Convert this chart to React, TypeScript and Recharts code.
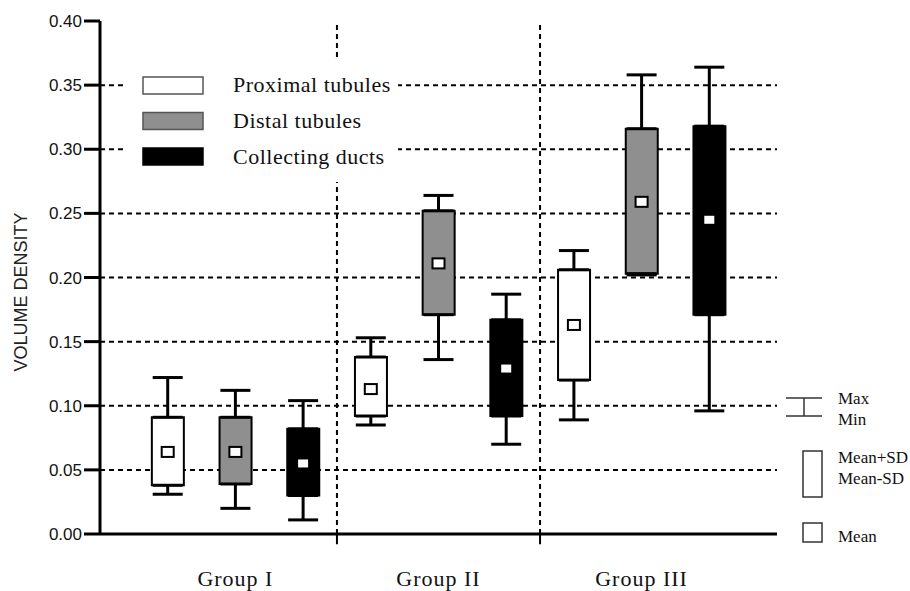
import React from 'react'
import { ComposedChart, Bar, Cell, Scatter, ErrorBar, XAxis, YAxis, CartesianGrid, ReferenceLine } from 'recharts'

const groups = ['Group I', 'Group II', 'Group III']
const seriesNames = ['Proximal tubules', 'Distal tubules', 'Collecting ducts']
const seriesFill = ['#ffffff', '#8f8f8f', '#000000']

// per series, one value per group (I, II, III)
const minVals = [
  [0.031, 0.085, 0.089],
  [0.020, 0.136, 0.202],
  [0.011, 0.070, 0.096],
]
const lowVals = [
  [0.038, 0.092, 0.120],
  [0.039, 0.171, 0.203],
  [0.030, 0.092, 0.171],
]
const meanVals = [
  [0.064, 0.113, 0.163],
  [0.064, 0.211, 0.259],
  [0.055, 0.129, 0.245],
]
const highVals = [
  [0.091, 0.138, 0.206],
  [0.091, 0.252, 0.316],
  [0.082, 0.167, 0.318],
]
const maxVals = [
  [0.122, 0.153, 0.221],
  [0.112, 0.264, 0.358],
  [0.104, 0.187, 0.364],
]

const yTicks = [0, 0.05, 0.1, 0.15, 0.2, 0.25, 0.3, 0.35, 0.4]
const gridValues = [0.05, 0.1, 0.15, 0.2, 0.25, 0.3, 0.35]

const rows = groups.flatMap((_, g) =>
  seriesNames.map((_, s) => ({
    x: g * 3 + s,
    fill: seriesFill[s],
    box: [lowVals[s][g], highVals[s][g]],
    lo: lowVals[s][g],
    hi: highVals[s][g],
    mean: meanVals[s][g],
    upErr: [0, maxVals[s][g] - highVals[s][g]],
    downErr: [lowVals[s][g] - minVals[s][g], 0],
  }))
)
const groupTicks = groups.map((_, g) => g * 3 + 1)
const separators = [2.5, 5.5]

const sans = '"Liberation Sans", Arial, sans-serif'
const serif = '"Liberation Serif", "Times New Roman", serif'

const GroupTick = (props: any) => {
  const { x, y, payload } = props
  const label = groups[groupTicks.indexOf(payload.value)]
  return (
    <text x={x} y={y + 50} textAnchor="middle" fontFamily={serif} fontSize={22} letterSpacing={1} fill="#111">
      {label}
    </text>
  )
}

const MeanMark = (props: any) => {
  const { cx, cy } = props
  return <rect x={cx - 6} y={cy - 5} width={12} height={10} fill="#fff" stroke="#000" strokeWidth={2} />
}

const NoMark = () => <g />

export default function App() {
  return (
    <div style={{ position: 'absolute', left: 0, top: 0, width: 910, height: 591, background: '#fff' }}>
      <ComposedChart width={910} height={591} data={rows} margin={{ top: 21, right: 133, left: 0, bottom: 0 }}>
        <CartesianGrid vertical={false} horizontalValues={gridValues} stroke="#000" strokeWidth={2} strokeDasharray="5 4" />
        <XAxis
          type="number"
          dataKey="x"
          domain={[-1, 9]}
          ticks={groupTicks}
          tick={<GroupTick />}
          tickLine={false}
          tickSize={0}
          height={57}
          stroke="#000"
          strokeWidth={3}
          axisLine={{ stroke: '#000', strokeWidth: 3 }}
        />
        <YAxis
          type="number"
          domain={[0, 0.4]}
          ticks={yTicks}
          tickFormatter={(v: number) => v.toFixed(2)}
          width={100}
          tickSize={16}
          tickMargin={2}
          stroke="#000"
          strokeWidth={3}
          tick={{ fontFamily: sans, fontSize: 17, fill: '#111', stroke: 'none' }}
          axisLine={{ stroke: '#000', strokeWidth: 3 }}
          tickLine={{ stroke: '#000', strokeWidth: 3 }}
        />
        {separators.map((v) => (
          <ReferenceLine key={v} x={v} stroke="#000" strokeWidth={2} strokeDasharray="5 4" />
        ))}
        {separators.map((v) => (
          <ReferenceLine
            key={'t' + v}
            segment={[{ x: v, y: 0 }, { x: v, y: -0.008 }]}
            ifOverflow="visible"
            stroke="#000"
            strokeWidth={2}
          />
        ))}
        <Scatter dataKey="hi" shape={<NoMark />} isAnimationActive={false}>
          <ErrorBar dataKey="upErr" direction="y" width={15} stroke="#000" strokeWidth={3} />
        </Scatter>
        <Scatter dataKey="lo" shape={<NoMark />} isAnimationActive={false}>
          <ErrorBar dataKey="downErr" direction="y" width={15} stroke="#000" strokeWidth={3} />
        </Scatter>
        <Bar dataKey="box" barSize={32} stroke="#000" strokeWidth={2} isAnimationActive={false}>
          {rows.map((r, i) => (
            <Cell key={i} fill={r.fill} />
          ))}
        </Bar>
        <Scatter dataKey="mean" shape={<MeanMark />} isAnimationActive={false} />
      </ComposedChart>

      <svg width={910} height={591} style={{ position: 'absolute', left: 0, top: 0, pointerEvents: 'none' }}>
        <text x={27} y={292} transform="rotate(-90 27 292)" textAnchor="middle" fontFamily={sans} fontSize={18} fill="#222">
          VOLUME DENSITY
        </text>

        <rect x={125} y={60} width={273} height={122} fill="#fff" />
        {seriesNames.map((name, s) => (
          <g key={name}>
            <rect x={143} y={77 + s * 35.5} width={60} height={17} fill={seriesFill[s]} stroke={s === 2 ? '#000' : '#555'} strokeWidth={1.5} />
            <text x={233} y={92 + s * 36} fontFamily={serif} fontSize={22} letterSpacing={0.5} fill="#111">
              {name}
            </text>
          </g>
        ))}

        <line x1={786} y1={398} x2={822} y2={398} stroke="#333" strokeWidth={1.5} />
        <line x1={786} y1={416} x2={822} y2={416} stroke="#333" strokeWidth={1.5} />
        <line x1={804} y1={398} x2={804} y2={416} stroke="#333" strokeWidth={1.5} />
        <text x={838} y={404} fontFamily={serif} fontSize={17} fill="#111">Max</text>
        <text x={838} y={425} fontFamily={serif} fontSize={17} fill="#111">Min</text>

        <rect x={803} y={451} width={19} height={46} fill="#fff" stroke="#333" strokeWidth={1.5} />
        <text x={838} y={463} fontFamily={serif} fontSize={17} fill="#111">Mean+SD</text>
        <text x={838} y={484} fontFamily={serif} fontSize={17} fill="#111">Mean-SD</text>

        <rect x={803} y={523} width={19} height={19} fill="#fff" stroke="#333" strokeWidth={1.5} />
        <text x={838} y={542} fontFamily={serif} fontSize={17} fill="#111">Mean</text>
      </svg>
    </div>
  )
}
